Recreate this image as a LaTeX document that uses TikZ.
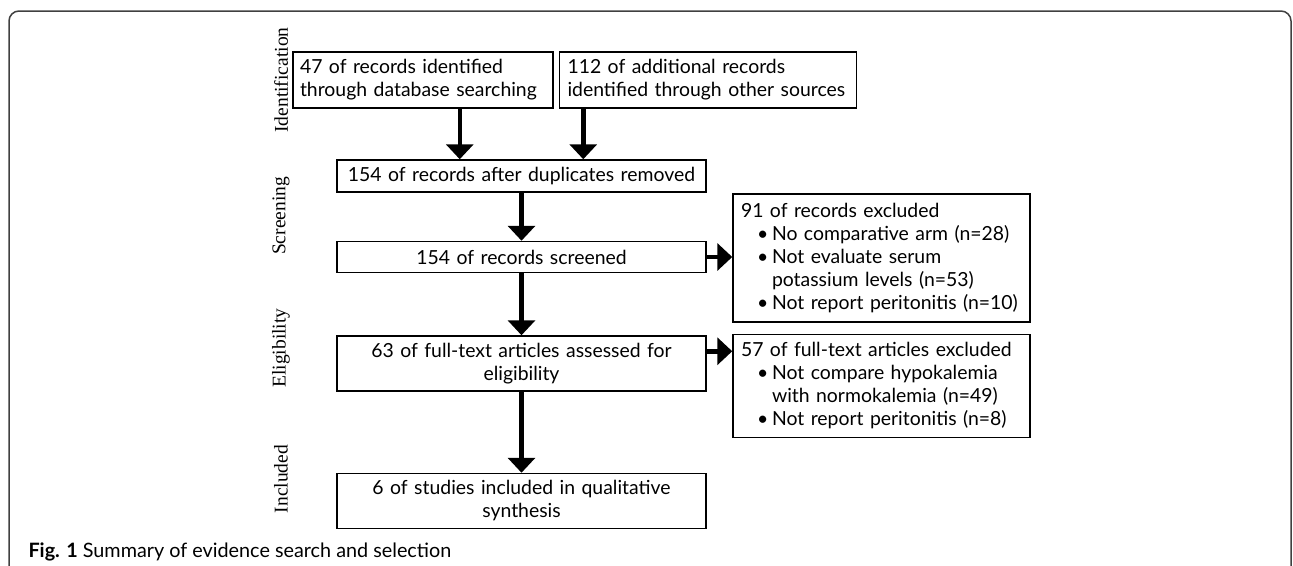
\documentclass[tikz,border=0pt]{standalone}
\usepackage{fontspec}
\setmainfont{Lato}
\newfontfamily\sidefont{Liberation Serif}
\usetikzlibrary{positioning, arrows.meta, calc}

\newcommand{\boxtext}{\fontsize{19.4}{23}\selectfont}
\newcommand{\bitem}[1]{\hspace*{16pt}\makebox[15pt][l]{\textbullet}#1}
\newcommand{\bcont}[1]{\hspace*{31pt}#1}

\begin{document}
\begin{tikzpicture}[
    x=1pt, y=-1pt,
    % Styles
    flowbox/.style={
        draw,
        line width=1.5pt,
        inner xsep=8pt,
        inner ysep=0pt,
        font=\boxtext
    },
    stage_label/.style={
        rotate=90,
        font=\sidefont\fontsize{19.5}{22}\selectfont
    },
    arrow/.style={-{Triangle[width=27pt, length=15pt]}, line width=4.5pt},
    frame_line/.style={draw=black!75, line width=1.5pt, rounded corners=10pt}
]
    \useasboundingbox (0,0) rectangle (1293,565);

    % --- Panel frame ---
    \draw[frame_line] (9,567) -- (9,11) -- (1291,11) -- (1291,567);

    % --- Identification ---
    \node[flowbox, inner xsep=7pt, text width=246pt, minimum height=56pt, align=left] (src_db) at (423,80)
        {47 of records identified\\through database searching};
    \node[flowbox, text width=281pt, minimum height=56pt, align=left, right=5pt of src_db] (src_other)
        {112 of additional records\\identified through other sources};

    % --- Screening ---
    \node[flowbox, text width=353pt, minimum height=32pt, align=center] (dedup) at (521.5,176)
        {154 of records after duplicates removed};
    \node[flowbox, text width=353pt, minimum height=31pt, align=center, below=48pt of dedup] (screened)
        {154 of records screened};

    % --- Eligibility ---
    \node[flowbox, text width=353pt, minimum height=55pt, align=center, below=62pt of screened] (fulltext)
        {63 of full-text articles assessed for\\eligibility};

    % --- Included ---
    \node[flowbox, text width=353pt, minimum height=55pt, align=center, below=81pt of fulltext] (included)
        {6 of studies included in qualitative\\synthesis};

    % --- Exclusions ---
    \node[flowbox, text width=281pt, minimum height=128pt, align=left] (excl_rec) at (881.5,258)
        {91 of records excluded\\
         \bitem{No comparative arm (n=28)}\\
         \bitem{Not evaluate serum}\\
         \bcont{potassium levels (n=53)}\\
         \bitem{Not report peritonitis (n=10)}};
    \node[flowbox, text width=281pt, minimum height=103pt, align=left, below=11pt of excl_rec] (excl_art)
        {57 of full-text articles excluded\\
         \bitem{Not compare hypokalemia}\\
         \bcont{with normokalemia (n=49)}\\
         \bitem{Not report peritonitis (n=8)}};

    % --- Stage labels ---
    \node[stage_label] (lab_id) at (281,80) {Identification};
    \node[stage_label] (lab_scr) at (281,216) {Screening};
    \node[stage_label] (lab_elig) at (281,348) {Eligibility};
    \node[stage_label] (lab_incl) at (281,479) {Included};

    % --- ARROWS ---
    \coordinate (in_a) at ($(dedup.north west)!1/3!(dedup.north east)$);
    \coordinate (in_b) at ($(dedup.north west)!2/3!(dedup.north east)$);
    \draw[arrow] (src_db.south -| in_a) -- (in_a);
    \draw[arrow] (src_other.south -| in_b) -- (in_b);
    \draw[arrow] (dedup) -- (screened);
    \draw[arrow] (screened) -- (fulltext);
    \draw[arrow] (fulltext) -- (included);
    \draw[arrow] (screened.east) -- (screened.east -| excl_rec.west);
    \coordinate (out_ft) at ([yshift=-16pt]fulltext.north east);
    \draw[arrow] (out_ft) -- (out_ft -| excl_art.west);

    % Caption
    \node[anchor=base west, font=\fontsize{19.8}{22}\selectfont] (caption) at (25,557)
        {\textbf{Fig. 1} Summary of evidence search and selection};

\end{tikzpicture}
\end{document}
